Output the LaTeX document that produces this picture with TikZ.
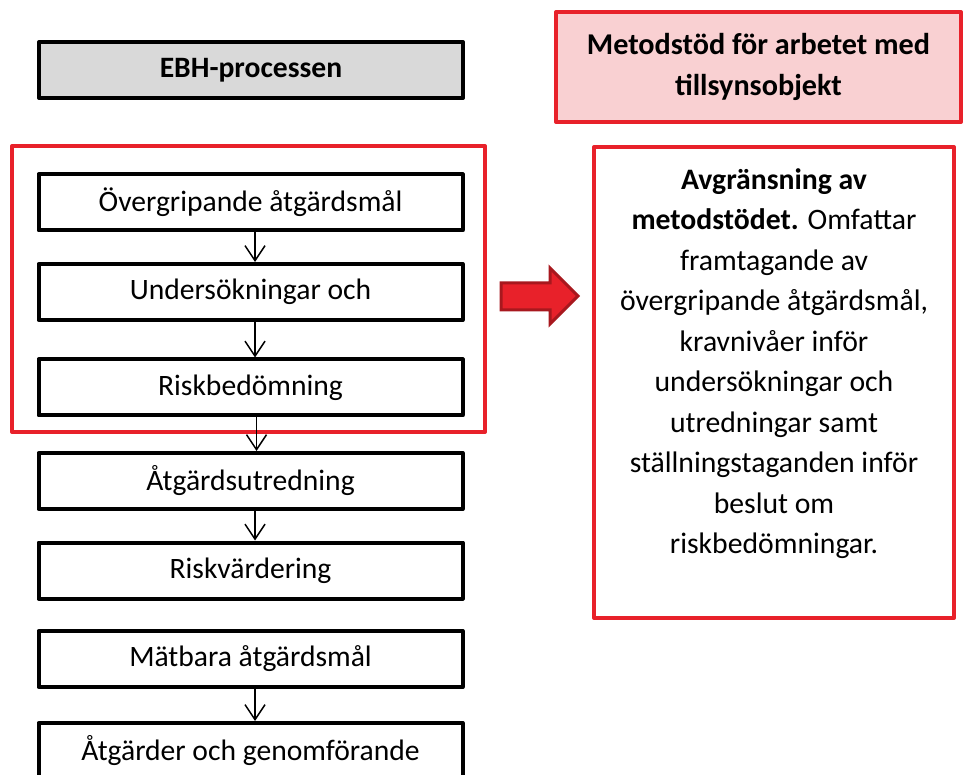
\documentclass[tikz,border=0pt]{standalone}
\usepackage{fontspec}
\setmainfont{Carlito}
\usetikzlibrary{arrows.meta}
\definecolor{myred}{RGB}{232,33,42}
\definecolor{darkred}{RGB}{168,24,30}
\definecolor{pinkfill}{RGB}{249,208,210}
\definecolor{grayfill}{RGB}{217,217,217}
\begin{document}
\begin{tikzpicture}[x=1pt,y=-1pt,
  stepbox/.style={draw=black, line width=4pt, fill=white, minimum width=424pt,
    minimum height=56pt, inner sep=0pt, line join=round,
    font=\fontsize{29.6}{34}\selectfont},
  redframe/.style={draw=myred, line width=4pt, inner sep=0pt, line join=round},
  flow/.style={-{Straight Barb[length=15pt,width=20pt]}, line width=1.5pt}]
\useasboundingbox (0,0) rectangle (964,775);
\begin{scope}
\clip (0,0) rectangle (964,775);
% group frame
\node[redframe, minimum width=473pt, minimum height=286pt] (grp) at (248.5,289) {};
% header
\node[stepbox, fill=grayfill, font=\fontsize{29.6}{34}\selectfont\bfseries] (ebh) at (251,70) {EBH-processen};
% steps
\node[stepbox] (b1) at (250.5,202.5) {Övergripande åtgärdsmål};
\node[stepbox] (b2) at (250.5,292) {Undersökningar och};
\node[stepbox] (b3) at (250.5,387.5) {Riskbedömning};
\node[stepbox] (b4) at (250.5,481) {Åtgärdsutredning};
\node[stepbox] (b5) at (250.5,570.5) {Riskvärdering};
\node[stepbox] (b6) at (250.5,659) {Mätbara åtgärdsmål};
\node[stepbox] (b7) at (250.5,751) {Åtgärder och genomförande};
% connectors
\draw[flow] ([xshift=4.5pt]b1.south) -- ([xshift=4.5pt]b2.north);
\draw[flow] ([xshift=4.5pt]b2.south) -- ([xshift=4.5pt]b3.north);
\draw[flow] ([xshift=6pt]b3.south) -- ([xshift=6pt]b4.north);
\draw[flow] ([xshift=4.5pt]b4.south) -- ([xshift=4.5pt]b5.north);
\draw[flow] ([xshift=4.5pt]b6.south) -- ([xshift=4.5pt]b7.north);
% big arrow
\draw[fill=myred, draw=darkred, line width=3pt, line join=miter]
  (501,283) -- (550,283) -- (550,268) -- (578,296) -- (550,324) -- (550,310) -- (501,310) -- cycle;
% right side
\node[redframe, fill=pinkfill, minimum width=405pt, minimum height=110pt,
  align=center, font=\fontsize{30.2}{41}\selectfont\bfseries] (meta) at (758.5,67)
  {Metodstöd för arbetet med\\tillsynsobjekt};
\node[redframe, fill=white, minimum width=360pt, minimum height=471pt] (rbox) at (774,382.5) {};
\node[align=center, inner sep=0pt, font=\fontsize{29.7}{40.5}\selectfont] (desc) at (774,363.5)
  {\textbf{Avgränsning av}\\\textbf{metodstödet.} Omfattar\\framtagande av\\övergripande åtgärdsmål,\\kravnivåer inför\\undersökningar och\\utredningar samt\\ställningstaganden inför\\beslut om\\riskbedömningar.};
\end{scope}
\end{tikzpicture}
\end{document}
